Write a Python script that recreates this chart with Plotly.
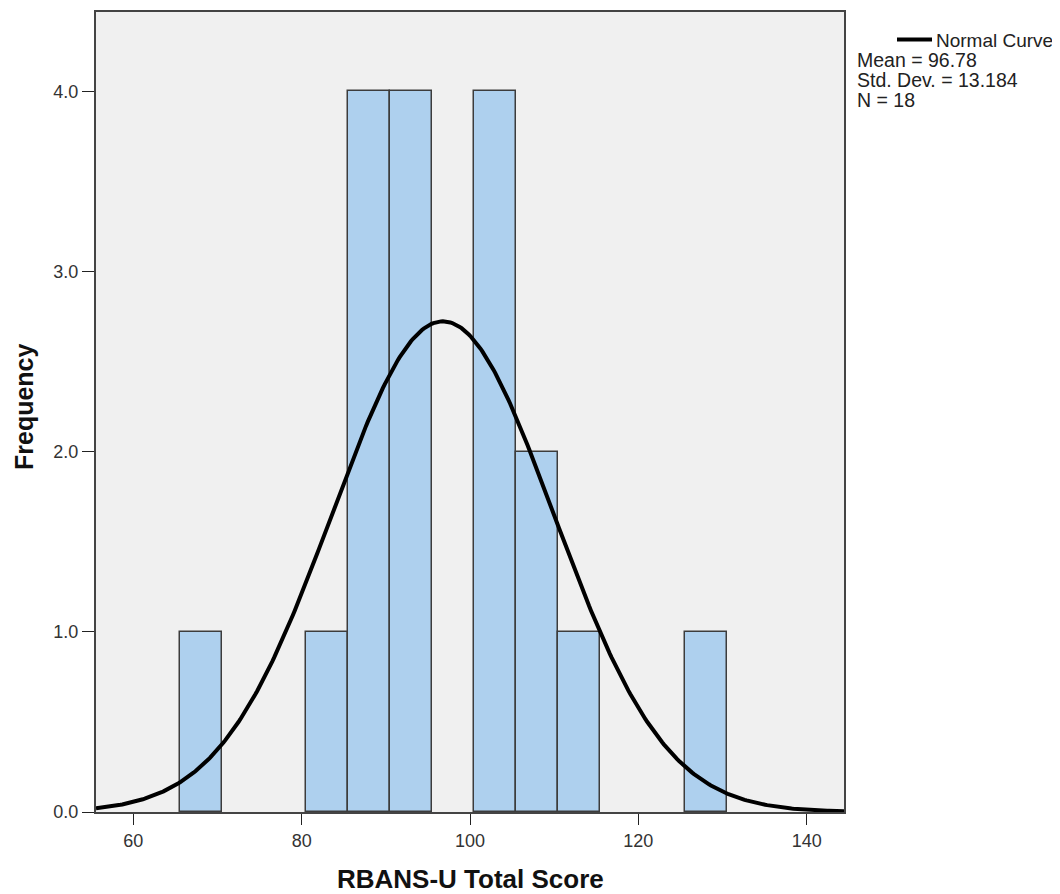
import numpy as np
import plotly.graph_objects as go

bin_starts = [65.5, 80.5, 85.5, 90.5, 100.5, 105.5, 110.5, 125.5]
bin_counts = [1, 1, 4, 4, 4, 2, 1, 1]
bin_width = 5
mean = 96.78
sd = 13.184
n = 18
x_ticks = [60, 80, 100, 120, 140]
y_ticks = [0, 1, 2, 3, 4]
y_tick_labels = ["0.0", "1.0", "2.0", "3.0", "4.0"]
stats = ["Mean = 96.78", "Std. Dev. = 13.184", "N = 18"]

centers = [s + bin_width / 2 for s in bin_starts]

# plot area in page pixels (page has an 8px body margin)
PL, PR, PT, PB = 96, 844, 10, 812
OFF = 8
W, H = 1060 - OFF, 894 - OFF


def px(x):
    return (x - PL) / (PR - PL)


def py(y):
    return (PB - y) / (PB - PT)


fig = go.Figure()
fig.add_trace(go.Bar(
    x=centers, y=bin_counts, width=bin_width,
    marker=dict(color="#AED0EE", line=dict(color="#3C3C3C", width=1.5)),
    showlegend=False, hoverinfo="skip"))

xs = np.linspace(55.57, 144.43, 400)
ys = n * bin_width * np.exp(-0.5 * ((xs - mean) / sd) ** 2) / (sd * np.sqrt(2 * np.pi))
fig.add_trace(go.Scatter(x=xs, y=ys, mode="lines",
                         line=dict(color="black", width=4), showlegend=False))

fig.update_layout(
    width=W, height=H,
    margin=dict(l=PL - OFF, r=W + OFF - PR, t=PT - OFF, b=H + OFF - PB),
    paper_bgcolor="white", plot_bgcolor="#F0F0F0",
    font=dict(family="Arial, Liberation Sans, sans-serif", color="#222222"),
    bargap=0,
)
fig.update_xaxes(range=[55.57, 144.43], tickvals=x_ticks, ticks="outside", ticklen=11,
                 tickcolor="#222222", tickwidth=1.3, showgrid=False, zeroline=False,
                 showline=True, linecolor="#444444", linewidth=2, mirror=True,
                 tickfont=dict(size=18, color="#333333"))
fig.update_yaxes(range=[0, 4.44], tickvals=y_ticks, ticktext=y_tick_labels, ticks="outside", ticklen=12,
                 tickcolor="#222222", tickwidth=1.3, showgrid=False, zeroline=False,
                 showline=True, linecolor="#444444", linewidth=2, mirror=True,
                 tickfont=dict(size=18, color="#333333"))

# axis titles
fig.add_annotation(xref="paper", yref="paper", x=px(470), y=py(879),
                   text="<b>RBANS-U Total Score</b>", showarrow=False,
                   xanchor="center", yanchor="middle",
                   font=dict(size=26, color="#111111"))
fig.add_annotation(xref="paper", yref="paper", x=px(24), y=py(406),
                   text="<b>Frequency</b>", showarrow=False, textangle=-90,
                   xanchor="center", yanchor="middle",
                   font=dict(size=25, color="#111111"))

# legend-like block
fig.add_shape(type="line", xref="paper", yref="paper",
              x0=px(897), x1=px(932), y0=py(37.5), y1=py(37.5),
              line=dict(color="black", width=4))
fig.add_annotation(xref="paper", yref="paper", x=px(934), y=py(39),
                   text="Normal Curve", showarrow=False, xanchor="left", yanchor="middle",
                   font=dict(size=19, color="#222222"))
for i, t in enumerate(stats):
    fig.add_annotation(xref="paper", yref="paper", x=px(855), y=py(58.5 + i * 20),
                       text=t, showarrow=False, xanchor="left", yanchor="middle",
                       font=dict(size=19.5, color="#222222"))

fig.write_html("out.html", post_script="document.body.style.overflow='hidden';")
